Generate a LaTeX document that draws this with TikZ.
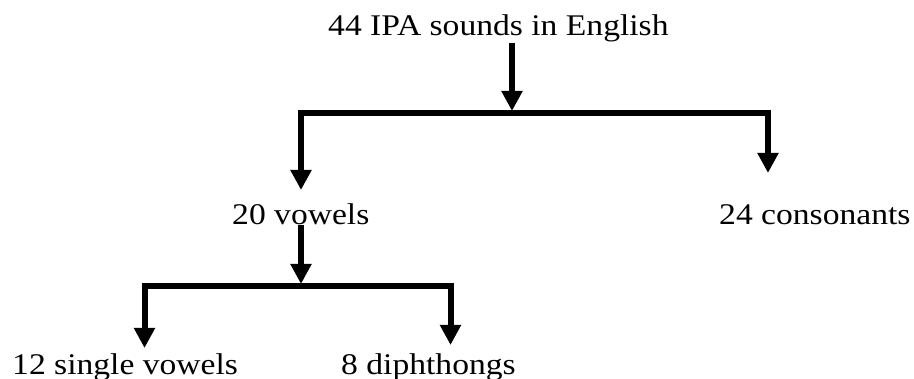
\documentclass[tikz,border=0pt]{standalone}
\usepackage{fontspec}
\setmainfont{Liberation Serif}[FakeStretch=1.12]
\usetikzlibrary{arrows.meta}

\tikzset{
  label/.style={inner sep=0pt, anchor=base west, font=\fontsize{30}{36}\selectfont},
  link/.style={line width=6pt, line join=miter, draw=black},
  arr/.style={link, -{Triangle[width=20pt,length=20pt]}}
}

\begin{document}
\begin{tikzpicture}[x=1pt,y=-1pt]
  \useasboundingbox (0,0) rectangle (914,379);

  % labels of the tree
  \node[label] (root)   at (328,36)  {44 IPA sounds in English};
  \node[label] (vowels) at (232,225) {20 vowels};
  \node[label] (cons)   at (719,225) {24 consonants};
  \node[label] (single) at (12,375)  {12 single vowels};
  \node[label] (diph)   at (341,375) {8 diphthongs};

  % branch points and arrow tips
  \coordinate (j1)    at (512,113.5);
  \coordinate (j1top) at (512,111);
  \coordinate (tipV)  at (301,190);
  \coordinate (tipC)  at (768,173);
  \coordinate (j2)    at (301,286.5);
  \coordinate (j2top) at (301,284);
  \coordinate (tipS)  at (144.5,348);
  \coordinate (tipD)  at (450.5,345);

  % first level
  \draw[arr] (root.south -| j1) -- (j1top);
  \draw[arr] (j1) -| (tipV);
  \draw[arr] (j1) -| (tipC);

  % second level
  \draw[arr] (vowels.south -| j2) -- (j2top);
  \draw[arr] (j2) -| (tipS);
  \draw[arr] (j2) -| (tipD);
\end{tikzpicture}
\end{document}
